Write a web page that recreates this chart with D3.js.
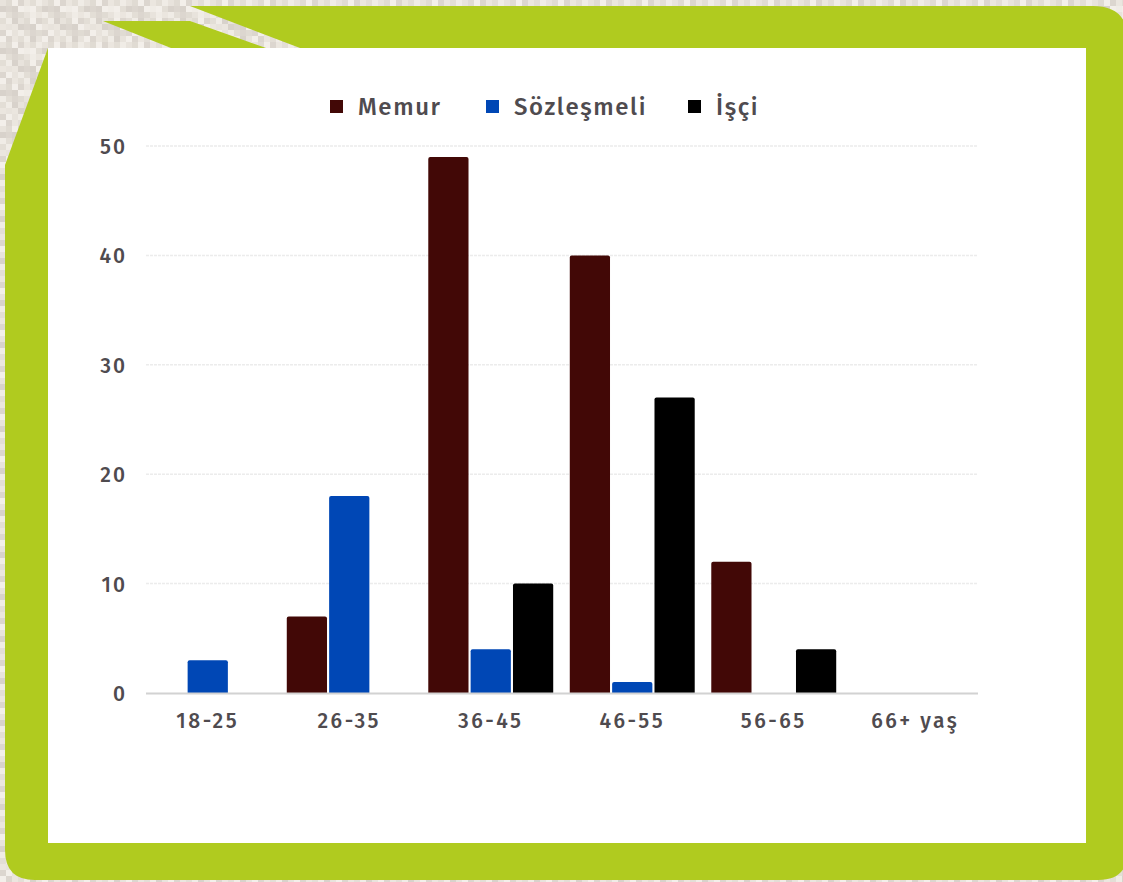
<!DOCTYPE html>
<html><head><meta charset="utf-8">
<script src="https://cdn.jsdelivr.net/npm/d3@7"></script>
<style>html,body{margin:0;padding:0;background:#e4ded7;overflow:hidden}</style>
</head><body>
<svg id="c" width="1123" height="882"></svg>
<script>
const categories = ["18-25","26-35","36-45","46-55","56-65","66+ yaş"];
const seriesNames = ["Memur","Sözleşmeli","İşçi"];
const memur = [0,7,49,40,12,0];
const sozlesmeli = [3,18,4,1,0,0];
const isci = [0,0,10,27,4,0];
const yTicks = [0,10,20,30,40,50];
const colors = ["#420806","#0047b5","#000000"];
const seriesValues = [memur, sozlesmeli, isci];

const svg = d3.select("#c");
const W = 1123, H = 882;

const shades = ["#e8e3dc","#dcd6cf","#f0ece6","#e0dbd3","#ebe6df","#d8d2cb","#f3efea","#e3ded6"];
const defs = svg.append("defs");
const pat = defs.append("pattern").attr("id","tex").attr("patternUnits","userSpaceOnUse")
  .attr("width",42).attr("height",42);
for (let i=0;i<7;i++) for (let j=0;j<7;j++) {
  pat.append("rect").attr("x",i*6).attr("y",j*6).attr("width",6).attr("height",6)
    .attr("fill", shades[(i*3 + j*5 + (i*j)%3) % shades.length]);
}
svg.append("rect").attr("width",W).attr("height",H).attr("fill","url(#tex)");

const green = "#b0cb1f";
svg.append("path").attr("fill",green).attr("d",
  "M190,6 L1093,6 Q1128,6 1128,41 L1128,850 Q1128,880 1098,880 L35,880 Q5,880 5,850 L5,165 L48,48 L300,48 Z");
svg.append("path").attr("fill",green).attr("d","M103,21 L190,21 L266,48 L171,48 Z");
svg.append("rect").attr("x",48).attr("y",48).attr("width",1038).attr("height",795).attr("fill","#ffffff");

const font = "'Fira Sans','Noto Sans',sans-serif";
const textColor = "#4f4b4f";

const y = d3.scaleLinear().domain([0,50]).range([693,146]);
const x0 = d3.scaleBand().domain(categories).range([137,986]).paddingInner(0.117).paddingOuter(0.0585);
const x1 = d3.scaleBand().domain(seriesNames).range([0,x0.bandwidth()]).paddingInner(0.05);

svg.append("g").selectAll("line").data(yTicks.filter(d=>d>0)).join("line")
  .attr("x1",146).attr("x2",978).attr("y1",d=>y(d)).attr("y2",d=>y(d))
  .attr("stroke","#ececec").attr("stroke-width",1.5).attr("stroke-dasharray","3,1");

const yAxis = d3.axisLeft(y).tickValues(yTicks).tickSize(0).tickPadding(0);
const gy = svg.append("g").attr("transform","translate(127,0)").call(yAxis);
gy.select(".domain").remove();
gy.selectAll("text").attr("font-family",font).attr("font-size",21).attr("font-weight",500)
  .attr("fill",textColor).attr("letter-spacing",2).attr("dy","0.36em");

const groups = svg.append("g").selectAll("g").data(categories).join("g")
  .attr("transform",d=>`translate(${x0(d)},0)`);
groups.selectAll("path").data((c,ci)=>seriesNames.map((s,si)=>({s,si,v:seriesValues[si][ci]})).filter(d=>d.v>0))
  .join("path")
  .attr("fill",d=>colors[d.si])
  .attr("d",d=>{
    const bx = x1(d.s), bw = x1.bandwidth(), top = y(d.v), bot = y(0), r = 2;
    return `M${bx},${bot} L${bx},${top+r} Q${bx},${top} ${bx+r},${top} L${bx+bw-r},${top} Q${bx+bw},${top} ${bx+bw},${top+r} L${bx+bw},${bot} Z`;
  });

svg.append("line").attr("x1",146).attr("x2",978).attr("y1",y(0)+0.5).attr("y2",y(0)+0.5)
  .attr("stroke","#d2d2d2").attr("stroke-width",2);

const xAxis = d3.axisBottom(x0).tickSize(0).tickPadding(0);
const gx = svg.append("g").attr("transform","translate(0,720)").call(xAxis);
gx.select(".domain").remove();
gx.selectAll("text").attr("font-family",font).attr("font-size",21).attr("font-weight",500)
  .attr("fill",textColor).attr("letter-spacing",2.5).attr("dy","0.36em");

const legendX = [330, 486, 688];
const lg = svg.append("g").selectAll("g").data(seriesNames).join("g")
  .attr("transform",(d,i)=>`translate(${legendX[i]},106)`);
lg.append("rect").attr("x",0).attr("y",-6).attr("width",13).attr("height",13).attr("fill",(d,i)=>colors[i]);
lg.append("text").attr("x",28).attr("y",0).attr("dy","0.36em").text(d=>d)
  .attr("font-family",font).attr("font-size",24).attr("font-weight",500).attr("fill",textColor)
  .attr("letter-spacing",1.6);
</script>
</body></html>
